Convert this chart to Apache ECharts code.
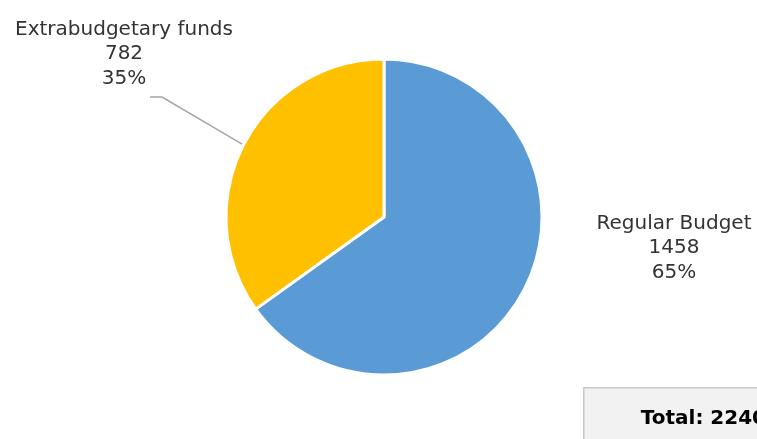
<!DOCTYPE html>
<html>
<head>
<meta charset="utf-8">
<script src="https://cdn.jsdelivr.net/npm/echarts@6/dist/echarts.min.js"></script>
<style>
  html, body { margin: 0; padding: 0; background: #fff; }
  #chart { width: 757px; height: 439px; }
</style>
</head>
<body>
<div id="chart"></div>
<script>
// Budget split by funding source
const categories = ['Regular Budget', 'Extrabudgetary funds'];
const amounts = [1458, 782];
const colors = ['#5B9BD5', '#FFC000'];

const total = amounts.reduce((a, b) => a + b, 0);
const FONT = '"DejaVu Sans", Verdana, sans-serif';

const chart = echarts.init(document.getElementById('chart'), null, { renderer: 'canvas' });

chart.setOption({
  animation: false,
  backgroundColor: '#ffffff',
  series: [{
    type: 'pie',
    center: [384, 217],
    radius: 158,
    startAngle: 90,
    clockwise: true,
    percentPrecision: 0,
    itemStyle: { borderColor: '#ffffff', borderWidth: 3 },
    label: {
      show: true,
      formatter: '{b}\n{c}\n{d}%',
      fontFamily: FONT,
      fontSize: 20,
      lineHeight: 24.5,
      color: '#333333',
      align: 'center',
      overflow: 'none'
    },
    labelLine: { show: true, lineStyle: { color: '#a6a6a6', width: 1.5 } },
    labelLayout: function (params) {
      if (params.dataIndex === 0) {
        return { x: 674, y: 248, align: 'center', verticalAlign: 'middle' };
      }
      const start = params.labelLinePoints ? params.labelLinePoints[0] : [243, 143];
      return {
        x: 124, y: 54, align: 'center', verticalAlign: 'middle',
        labelLinePoints: [start, [162, 97], [150, 97]]
      };
    },
    data: categories.map((name, i) => ({
      name: name,
      value: amounts[i],
      itemStyle: { color: colors[i] },
      labelLine: { show: i === 1 }
    }))
  }],
  graphic: [{
    type: 'group',
    left: 583,
    top: 387,
    children: [{
      type: 'rect',
      shape: { x: 0, y: 0, width: 200, height: 70 },
      style: { fill: '#f2f2f2', stroke: '#c8c8c8', lineWidth: 1.5 }
    }, {
      type: 'text',
      x: 57,
      y: 31,
      style: {
        text: 'Total: ' + total,
        font: 'bold 20px ' + FONT,
        fill: '#000000',
        textVerticalAlign: 'middle'
      }
    }]
  }]
});
</script>
</body>
</html>
